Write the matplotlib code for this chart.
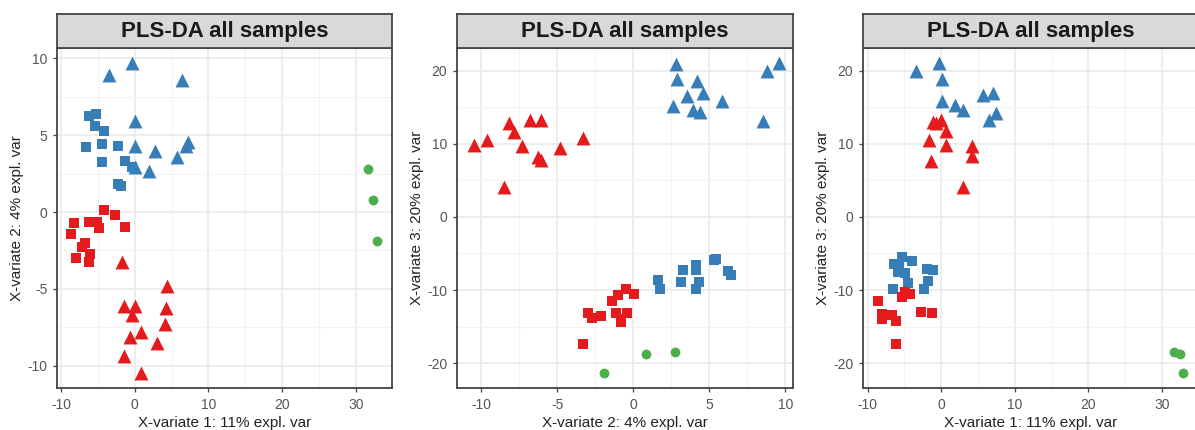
import matplotlib
matplotlib.use("Agg")
import matplotlib.pyplot as plt
import numpy as np

plt.rcParams['font.family'] = ['Liberation Sans', 'DejaVu Sans']
plt.rcParams['axes.unicode_minus'] = False

# colours (Set1)
BLUE = '#377EB8'
RED = '#E41A1C'
GREEN = '#4DAF4A'

TITLE = "PLS-DA all samples"

# ---- panel 1: X-variate 1 vs X-variate 2 ----
p1_blue_sq = [(-6.2, 6.25), (-5.2, 6.4), (-5.4, 5.6), (-4.1, 5.3), (-6.6, 4.2),
              (-4.5, 4.4), (-2.2, 4.3), (-4.4, 3.25), (-1.3, 3.3), (-0.4, 2.9),
              (-2.25, 1.85), (-1.9, 1.7)]
p1_blue_tri = [(-0.3, 9.7), (-3.5, 8.9), (6.4, 8.6), (0.0, 5.9), (0.1, 4.3),
               (2.8, 4.0), (7.2, 4.55), (7.0, 4.3), (5.75, 3.6), (0.1, 2.9),
               (1.9, 2.7)]
p1_red_sq = [(-4.1, 0.15), (-2.7, -0.2), (-1.3, -1.0), (-8.2, -0.7), (-8.7, -1.4),
             (-6.2, -0.65), (-5.1, -0.65), (-4.9, -1.05), (-6.7, -2.0), (-7.1, -2.3),
             (-8.0, -3.0), (-6.0, -2.7), (-6.2, -3.25)]
p1_red_tri = [(-1.7, -3.25), (4.4, -4.8), (-1.5, -6.1), (0.0, -6.1), (-0.35, -6.7),
              (4.2, -6.25), (4.1, -7.3), (-0.7, -8.1), (0.9, -7.8), (3.0, -8.5),
              (-1.5, -9.4), (0.8, -10.5)]
p1_green = [(31.7, 2.8), (32.3, 0.8), (32.8, -1.9)]

# ---- panel 2: X-variate 2 vs X-variate 3 ----
p2_blue_sq = [(1.65, -8.6), (1.75, -9.8), (3.25, -7.3), (3.15, -8.9), (4.1, -6.6),
              (4.1, -7.2), (4.1, -9.9), (4.3, -8.9), (5.3, -5.9), (5.45, -5.7),
              (6.2, -7.4), (6.4, -7.9)]
p2_blue_tri = [(2.8, 20.9), (2.9, 18.8), (4.2, 18.6), (3.5, 16.6), (4.6, 16.9),
               (2.6, 15.1), (3.9, 14.6), (4.4, 14.4), (5.8, 15.8), (8.8, 20.0),
               (9.6, 21.0), (8.5, 13.1)]
p2_red_sq = [(-3.3, -17.4), (-3.0, -13.2), (-2.7, -13.8), (-2.1, -13.6), (-1.4, -11.5),
             (-1.0, -10.7), (-0.5, -9.9), (0.05, -10.5), (-1.15, -13.2), (-0.8, -13.9),
             (-0.8, -14.4), (-0.4, -13.1)]
p2_red_tri = [(-10.5, 9.9), (-9.6, 10.5), (-8.2, 12.8), (-7.85, 11.6), (-6.8, 13.2),
              (-6.1, 13.2), (-7.3, 9.7), (-6.3, 8.2), (-6.1, 7.8), (-4.8, 9.4),
              (-3.3, 10.8), (-8.5, 4.1)]
p2_green = [(-1.9, -21.4), (0.8, -18.8), (2.75, -18.5)]

# ---- panel 3: X-variate 1 vs X-variate 3 ----
p3_blue_sq = [(-5.4, -5.5), (-4.0, -6.0), (-6.4, -6.4), (-5.8, -6.4), (-5.9, -7.5),
              (-4.9, -7.7), (-4.5, -9.0), (-6.5, -9.9), (-2.0, -7.1), (-1.1, -7.2),
              (-1.75, -8.7), (-2.3, -9.8)]
p3_blue_tri = [(-3.5, 20.0), (-0.3, 21.0), (0.15, 18.8), (0.05, 15.9), (1.8, 15.3),
               (2.9, 14.6), (5.7, 16.7), (7.1, 16.9), (7.5, 14.2), (6.5, 13.2)]
p3_red_sq = [(-8.6, -11.5), (-8.1, -13.3), (-6.7, -13.4), (-6.1, -14.2), (-4.9, -10.3),
             (-4.2, -10.5), (-2.7, -13.0), (-1.2, -13.2), (-6.2, -17.4), (-8.0, -13.9),
             (-5.3, -11.0)]
p3_red_tri = [(-1.1, 13.0), (0.0, 13.2), (-0.7, 12.9), (0.7, 11.7), (-1.7, 10.5),
              (0.7, 9.9), (-1.4, 7.7), (4.2, 9.7), (4.2, 8.3), (3.0, 4.1)]
p3_green = [(31.7, -18.5), (32.4, -18.8), (32.8, -21.4)]

xlabels = ["X-variate 1: 11% expl. var", "X-variate 2: 4% expl. var", "X-variate 1: 11% expl. var"]
ylabels = ["X-variate 2: 4% expl. var", "X-variate 3: 20% expl. var", "X-variate 3: 20% expl. var"]

panels = [
    (p1_blue_sq, p1_blue_tri, p1_red_sq, p1_red_tri, p1_green),
    (p2_blue_sq, p2_blue_tri, p2_red_sq, p2_red_tri, p2_green),
    (p3_blue_sq, p3_blue_tri, p3_red_sq, p3_red_tri, p3_green),
]

limits = [
    ((-10.54, 34.9), (-11.45, 10.67)),
    ((-11.6, 10.5), (-23.4, 23.1)),
    ((-10.64, 34.9), (-23.4, 23.1)),
]
xticks = [[-10, 0, 10, 20, 30], [-10, -5, 0, 5, 10], [-10, 0, 10, 20, 30]]
yticks = [[-10, -5, 0, 5, 10], [-20, -10, 0, 10, 20], [-20, -10, 0, 10, 20]]

W, H = 1195, 430
fig = plt.figure(figsize=(W / 100, H / 100), dpi=100)

# pixel boxes (left, right) of each panel, shared top/bottom
lefts = [57, 457, 863]
rights = [392, 793, 1198]
top_px, bot_px = 48, 388
strip_top = 14


def pts(p):
    a = np.array(p)
    return a[:, 0], a[:, 1]


for i in range(3):
    l, r = lefts[i], rights[i]
    ax = fig.add_axes([l / W, (H - bot_px) / H, (r - l) / W, (bot_px - top_px) / H])
    bsq, btri, rsq, rtri, grn = panels[i]

    ax.scatter(*pts(bsq), marker='s', s=56, c=BLUE, linewidths=0, zorder=3)
    ax.scatter(*pts(btri), marker='^', s=100, c=BLUE, linewidths=0, zorder=3)
    ax.scatter(*pts(rsq), marker='s', s=56, c=RED, linewidths=0, zorder=3)
    ax.scatter(*pts(rtri), marker='^', s=100, c=RED, linewidths=0, zorder=3)
    ax.scatter(*pts(grn), marker='o', s=50, c=GREEN, linewidths=0, zorder=3)

    xt, yt = xticks[i], yticks[i]
    ax.set_xticks(xt)
    ax.set_yticks(yt)
    dx = (xt[1] - xt[0]) / 2
    dy = (yt[1] - yt[0]) / 2
    ax.set_xticks(np.arange(xt[0] - dx, xt[-1] + 2 * dx, 2 * dx), minor=True)
    ax.set_yticks(np.arange(yt[0] - dy, yt[-1] + 2 * dy, 2 * dy), minor=True)
    # limits after ticks, otherwise minor ticks widen the view
    ax.set_xlim(limits[i][0])
    ax.set_ylim(limits[i][1])
    ax.grid(which='major', color='#EAEAEA', lw=1.2, zorder=0)
    ax.grid(which='minor', color='#F2F2F2', lw=0.8, zorder=0)
    ax.set_axisbelow(True)
    ax.tick_params(which='minor', length=0)
    ax.tick_params(which='major', length=3, width=0.9, color='#444444',
                   labelcolor='#555555', labelsize=10, pad=4)
    for sp in ax.spines.values():
        sp.set_color('#444444')
        sp.set_linewidth(1.3)
    if i == 2:
        ax.spines['right'].set_visible(False)
    ax.set_xlabel(xlabels[i], fontsize=11, color='#222222', labelpad=3)
    ax.set_ylabel(ylabels[i], fontsize=11, color='#222222', labelpad=2)

    # facet strip
    sax = fig.add_axes([l / W, (H - top_px) / H, (r - l) / W, (top_px - strip_top) / H])
    sax.set_facecolor('#D9D9D9')
    sax.set_xticks([])
    sax.set_yticks([])
    for sp in sax.spines.values():
        sp.set_color('#444444')
        sp.set_linewidth(1.3)
    sax.text(0.5, 0.5, TITLE, transform=sax.transAxes, ha='center', va='center',
             fontsize=16, fontweight='bold', color='#1A1A1A')

fig.savefig('out.png', dpi=100)
